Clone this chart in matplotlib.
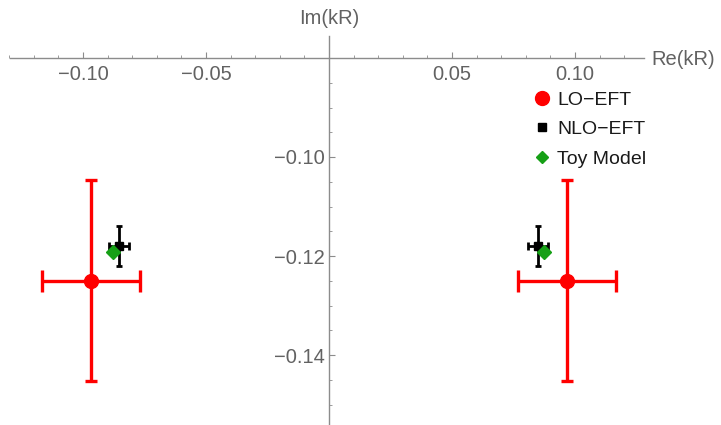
import numpy as np
import matplotlib
matplotlib.use("Agg")
import matplotlib.pyplot as plt
from matplotlib.lines import Line2D
from matplotlib.ticker import FixedLocator

plt.rcParams['font.family'] = ['Liberation Sans', 'DejaVu Sans']

# dados (dois polos simétricos)
lo_re = [-0.0967, 0.0967]
lo_im = [-0.1250, -0.1250]
lo_err_re = [0.020, 0.020]
lo_err_im = [0.0203, 0.0203]

nlo_re = [-0.0855, 0.0848]
nlo_im = [-0.1180, -0.1180]
nlo_err_re = [0.0041, 0.0041]
nlo_err_im = [0.0041, 0.0041]

toy_re = [-0.0879, 0.0872]
toy_im = [-0.1192, -0.1192]

x_ticks = [-0.10, -0.05, 0.05, 0.10]
x_tick_labels = ["\u22120.10", "\u22120.05", "0.05", "0.10"]
y_ticks = [-0.14, -0.12, -0.10]
y_tick_labels = ["\u22120.14", "\u22120.12", "\u22120.10"]

axis_col = "#8c8c8c"
text_col = "#626262"

fig = plt.figure(figsize=(7.21, 4.25), dpi=100)
ax = fig.add_axes([0, 0, 1, 1])
ax.set_xlim(-329 / 2460, (721 - 329) / 2460)
ax.set_ylim(-0.12 - 169 / 4950, -0.12 + 256 / 4950)

# eixos cruzando em (0, -0.08)
for s in ["top", "right"]:
    ax.spines[s].set_visible(False)
ax.spines["left"].set_position(("data", 0))
ax.spines["bottom"].set_position(("data", -0.08))
ax.spines["bottom"].set_bounds(-0.1297, 0.128)
ax.spines["left"].set_bounds(-0.16, -0.0755)
for s in ["left", "bottom"]:
    ax.spines[s].set_color(axis_col)
    ax.spines[s].set_linewidth(1.0)

ax.xaxis.set_major_locator(FixedLocator(x_ticks))
ax.set_xticklabels(x_tick_labels)
ax.xaxis.set_minor_locator(FixedLocator([v / 100 for v in range(-13, 13) if v % 5 != 0]))
ax.yaxis.set_major_locator(FixedLocator(y_ticks))
ax.set_yticklabels(y_tick_labels)
ax.yaxis.set_minor_locator(FixedLocator([-0.08 - 0.005 * i for i in range(1, 16) if i % 4 != 0]))
ax.tick_params(which="both", direction="in", color=axis_col, labelcolor=text_col, labelsize=14.5)
ax.tick_params(which="major", length=4, width=0.8)
ax.tick_params(which="minor", length=2.5, width=0.6)
ax.tick_params(axis="x", pad=5)
ax.tick_params(axis="y", pad=3)

ax.text(0.131, -0.0803, "Re(kR)", color=text_col, fontsize=14.5, va="center", ha="left")
ax.text(0.0, -0.0720, "Im(kR)", color=text_col, fontsize=14.5, va="center", ha="center")

# LO-EFT (vermelho)
red = "#ff0000"
ax.errorbar(lo_re, lo_im, xerr=lo_err_re, fmt="none", ecolor=red, elinewidth=2.4, capsize=8, capthick=2.4, zorder=2)
ax.errorbar(lo_re, lo_im, yerr=lo_err_im, fmt="none", ecolor=red, elinewidth=2.4, capsize=4.5, capthick=2.4, zorder=2)
ax.plot(lo_re, lo_im, "o", color=red, ms=10, zorder=3)

# NLO-EFT (preto)
ax.errorbar(nlo_re, nlo_im, xerr=nlo_err_re, fmt="none", ecolor="black", elinewidth=2, capsize=3, capthick=2, zorder=4)
ax.errorbar(nlo_re, nlo_im, yerr=nlo_err_im, fmt="none", ecolor="black", elinewidth=2, capsize=2, capthick=2, zorder=4)
ax.plot(nlo_re, nlo_im, "s", color="black", ms=6, zorder=5)

# Toy Model (verde)
green = "#16a016"
ax.plot(toy_re, toy_im, "D", color=green, ms=7, zorder=6)

handles = [
    Line2D([], [], ls="none", marker="o", color=red, ms=10),
    Line2D([], [], ls="none", marker="s", color="black", ms=6),
    Line2D([], [], ls="none", marker="D", color=green, ms=6),
]
leg = ax.legend(handles, ["LO\u2212EFT", "NLO\u2212EFT", "Toy Model"], loc="upper left",
                bbox_to_anchor=(530 / 721, 1 - 91 / 425), bbox_transform=fig.transFigure,
                frameon=False, fontsize=14, handletextpad=0.2, labelspacing=0.62,
                handlelength=1.2, borderaxespad=0, borderpad=0)
for t in leg.get_texts():
    t.set_color("#1a1a1a")

fig.savefig("out.png", dpi=100)
